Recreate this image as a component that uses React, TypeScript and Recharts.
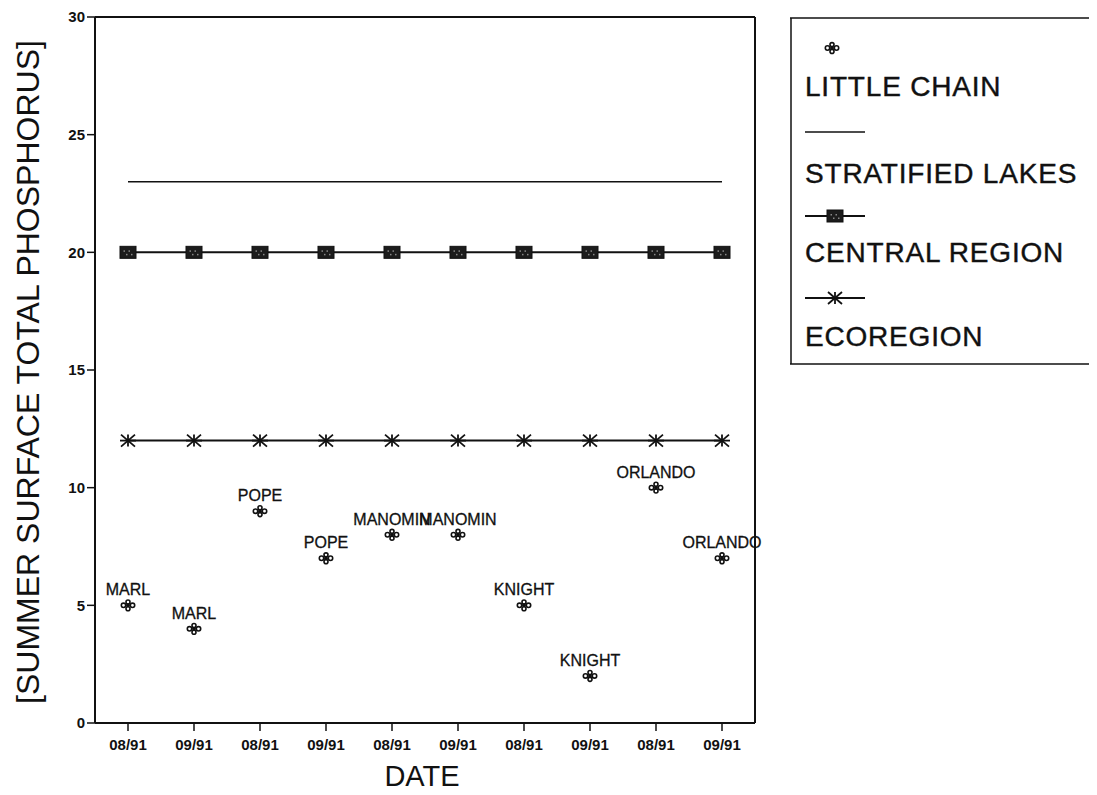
import React from 'react';
import { ComposedChart, Line, XAxis, YAxis, Legend, LabelList, ReferenceLine } from 'recharts';

const dateLabels = ['08/91', '09/91', '08/91', '09/91', '08/91', '09/91', '08/91', '09/91', '08/91', '09/91'];
const lakeNames = ['MARL', 'MARL', 'POPE', 'POPE', 'MANOMIN', 'MANOMIN', 'KNIGHT', 'KNIGHT', 'ORLANDO', 'ORLANDO'];
const littleChain = [5, 4, 9, 7, 8, 8, 5, 2, 10, 7];
const stratifiedLakes = [23, 23, 23, 23, 23, 23, 23, 23, 23, 23];
const centralRegion = [20, 20, 20, 20, 20, 20, 20, 20, 20, 20];
const ecoregion = [12, 12, 12, 12, 12, 12, 12, 12, 12, 12];
const yTicks = [0, 5, 10, 15, 20, 25, 30];

const seriesNames = ['LITTLE CHAIN', 'STRATIFIED LAKES', 'CENTRAL REGION', 'ECOREGION'];

const slots = dateLabels.map((_, i) => i);
const xDomain = [-0.5, dateLabels.length - 0.5];

const data = dateLabels.map((d, i) => ({
  slot: i,
  date: d,
  name: lakeNames[i],
  lc: littleChain[i],
  sl: stratifiedLakes[i],
  cr: centralRegion[i],
  eco: ecoregion[i],
}));

const FONT = '"Liberation Sans", Arial, Helvetica, sans-serif';
const INK = '#111';

const ChainMarker = ({ cx, cy }: { cx: number; cy: number }) => (
  <g stroke={INK} strokeWidth={1.6} fill="none">
    <circle cx={cx - 4.5} cy={cy} r={2.2} />
    <circle cx={cx + 4.5} cy={cy} r={2.2} />
    <circle cx={cx} cy={cy - 3.4} r={2} />
    <circle cx={cx} cy={cy + 3.4} r={2} />
    <circle cx={cx} cy={cy} r={1.2} fill={INK} />
  </g>
);

const SquareMarker = ({ cx, cy }: { cx: number; cy: number }) => (
  <g>
    <rect x={cx - 8} y={cy - 6} width={16} height={12} fill="#1c1c1c" stroke={INK} strokeWidth={1} />
    <rect x={cx - 4.5} y={cy - 2} width={1.5} height={1.5} fill="#888" />
    <rect x={cx + 0.5} y={cy - 2} width={1.5} height={1.5} fill="#888" />
    <rect x={cx - 2} y={cy + 1.5} width={1.5} height={1.5} fill="#888" />
    <rect x={cx + 3} y={cy + 1.5} width={1.5} height={1.5} fill="#888" />
  </g>
);

const StarMarker = ({ cx, cy }: { cx: number; cy: number }) => (
  <g stroke={INK} strokeWidth={1.8}>
    <line x1={cx - 7} y1={cy - 6} x2={cx + 7} y2={cy + 6} />
    <line x1={cx - 7} y1={cy + 6} x2={cx + 7} y2={cy - 6} />
    <line x1={cx} y1={cy - 6} x2={cx} y2={cy + 6} />
    <line x1={cx - 8} y1={cy} x2={cx + 8} y2={cy} />
  </g>
);

const renderLakeLabel = (props: any) => {
  const { x, y, value } = props;
  return (
    <text x={x} y={y - 10} textAnchor="middle" fontFamily={FONT} fontSize={16} fill={INK} stroke={INK} strokeWidth={0.3}>
      {value}
    </text>
  );
};

const renderYLabel = (props: any) => {
  const vb = props.viewBox || { x: 27, y: 9, width: 60, height: 706 };
  const cx = vb.x + 4;
  const cy = vb.y + vb.height / 2 + 2;
  return (
    <text
      x={cx}
      y={cy}
      transform={`rotate(-90, ${cx}, ${cy})`}
      textAnchor="middle"
      fontFamily={FONT}
      fontSize={32}
      fill={INK}
    >
      [SUMMER SURFACE TOTAL PHOSPHORUS]
    </text>
  );
};

const renderXLabel = (props: any) => {
  const vb = props.viewBox || { x: 87, y: 715, width: 660, height: 60 };
  return (
    <text x={vb.x + vb.width / 2 - 3} y={vb.y + 63} textAnchor="middle" fontFamily={FONT} fontSize={29} fill={INK}>
      DATE
    </text>
  );
};

const legendText = { fontFamily: FONT, fontSize: 28, letterSpacing: 0.8, fill: INK, stroke: INK, strokeWidth: 0.4 } as const;

const renderLegend = () => (
  <svg width={330} height={352} style={{ display: 'block' }}>
    <line x1={0} y1={1} x2={330} y2={1} stroke={INK} strokeWidth={1.5} />
    <line x1={1} y1={1} x2={1} y2={347} stroke={INK} strokeWidth={1.5} />
    <line x1={0} y1={347} x2={330} y2={347} stroke={INK} strokeWidth={1.5} />
    <ChainMarker cx={42} cy={31} />
    <text x={15} y={79} {...legendText}>{seriesNames[0]}</text>
    <line x1={15} y1={115} x2={75} y2={115} stroke={INK} strokeWidth={1.3} />
    <text x={15} y={166} {...legendText}>{seriesNames[1]}</text>
    <line x1={15} y1={199} x2={75} y2={199} stroke={INK} strokeWidth={2} />
    <SquareMarker cx={45} cy={199} />
    <text x={15} y={245} {...legendText}>{seriesNames[2]}</text>
    <line x1={15} y1={281} x2={75} y2={281} stroke={INK} strokeWidth={2} />
    <StarMarker cx={45} cy={281} />
    <text x={15} y={329} {...legendText}>{seriesNames[3]}</text>
  </svg>
);

export default function App() {
  return (
    <div style={{ width: 1089, height: 787, position: 'relative', background: '#fff' }}>
      <style>{'html,body{overflow:hidden}'}</style>
      <ComposedChart
        width={1089}
        height={787}
        data={data}
        margin={{ top: 9, right: 342, bottom: 12, left: 27 }}
        style={{ overflow: 'visible' }}
      >
        <XAxis
          dataKey="slot"
          type="number"
          domain={xDomain}
          ticks={slots}
          tickFormatter={(v: any) => dateLabels[Number(v)]}
          height={60}
          tickSize={8}
          tickMargin={8}
          axisLine={{ stroke: INK, strokeWidth: 2 }}
          tickLine={{ stroke: INK, strokeWidth: 1.5 }}
          tick={{ fontFamily: FONT, fontSize: 15, fontWeight: 'bold', fill: INK }}
          interval={0}
          allowDataOverflow
          label={{ content: renderXLabel }}
        />
        <YAxis
          domain={[0, 30]}
          ticks={yTicks}
          width={60}
          tickSize={8}
          tickMargin={2}
          axisLine={{ stroke: INK, strokeWidth: 2 }}
          tickLine={{ stroke: INK, strokeWidth: 1.5 }}
          tick={{ fontFamily: FONT, fontSize: 15, fontWeight: 'bold', fill: INK }}
          interval={0}
          label={{ content: renderYLabel }}
        />
        <ReferenceLine y={30} stroke={INK} strokeWidth={2} ifOverflow="extendDomain" />
        <ReferenceLine x={xDomain[1]} stroke={INK} strokeWidth={2} ifOverflow="extendDomain" />
        <Legend
          layout="vertical"
          align="center"
          verticalAlign="middle"
          content={renderLegend}
          wrapperStyle={{ position: 'absolute', left: 782, top: 9, width: 330, height: 352 }}
        />
        <Line
          dataKey="sl"
          stroke={INK}
          strokeWidth={1.3}
          dot={false}
          activeDot={false}
          isAnimationActive={false}
        />
        <Line
          dataKey="cr"
          stroke={INK}
          strokeWidth={2}
          dot={(p: any) => <SquareMarker key={`cr${p.index}`} cx={p.cx} cy={p.cy} />}
          activeDot={false}
          isAnimationActive={false}
        />
        <Line
          dataKey="eco"
          stroke={INK}
          strokeWidth={2}
          dot={(p: any) => <StarMarker key={`eco${p.index}`} cx={p.cx} cy={p.cy} />}
          activeDot={false}
          isAnimationActive={false}
        />
        <Line
          dataKey="lc"
          stroke="none"
          dot={(p: any) => <ChainMarker key={`lc${p.index}`} cx={p.cx} cy={p.cy} />}
          activeDot={false}
          isAnimationActive={false}
        >
          <LabelList dataKey="name" content={renderLakeLabel} />
        </Line>
      </ComposedChart>
    </div>
  );
}
